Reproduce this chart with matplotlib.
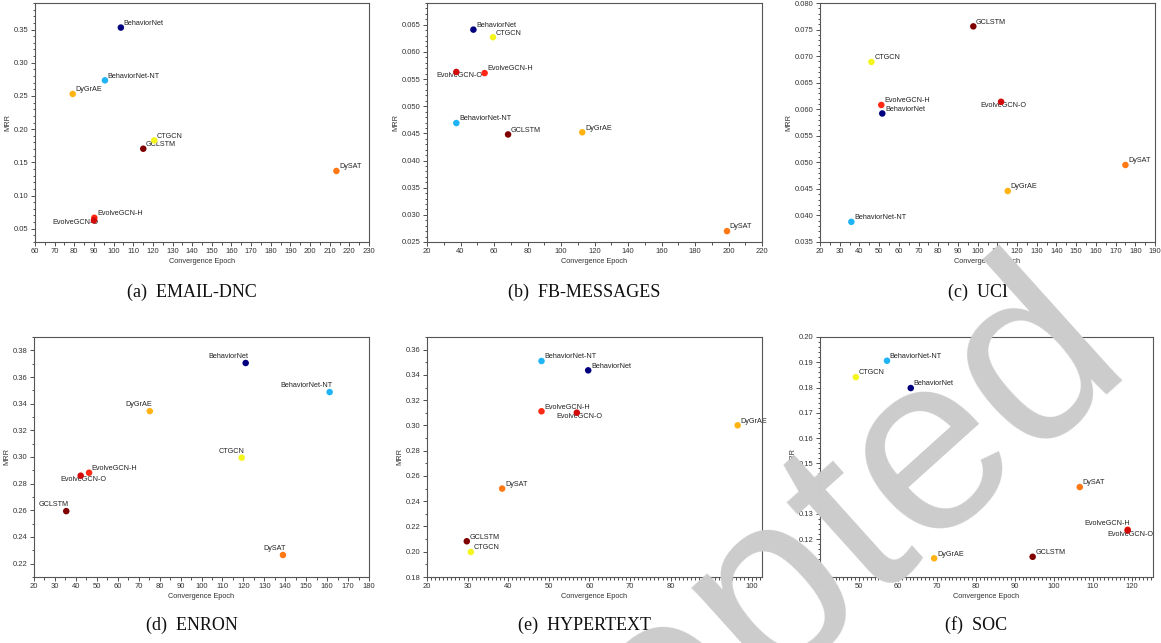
import matplotlib
matplotlib.use("Agg")
import matplotlib.pyplot as plt
from matplotlib.ticker import MultipleLocator, FormatStrFormatter

# methods in the order used by every dataset list below
methods = ["BehaviorNet", "BehaviorNet-NT", "CTGCN", "DyGrAE", "DySAT",
           "EvolveGCN-H", "EvolveGCN-O", "GCLSTM"]

email_epoch = [103.7, 95.6, 120.7, 79.2, 213.4, 90.2, 90.0, 115.1]
email_mrr = [0.353, 0.2735, 0.183, 0.253, 0.137, 0.0665, 0.0625, 0.1705]

fb_epoch = [47.7, 37.5, 59.4, 112.7, 199.1, 54.4, 37.5, 68.4]
fb_mrr = [0.0641, 0.0469, 0.0627, 0.0452, 0.0270, 0.0561, 0.0563, 0.0448]

uci_epoch = [51.6, 35.9, 46.1, 115.3, 175.0, 51.1, 111.9, 97.8]
uci_mrr = [0.0592, 0.0388, 0.0689, 0.0446, 0.0495, 0.0608, 0.0614, 0.0756]

enron_epoch = [121.1, 161.2, 119.2, 75.3, 138.9, 46.3, 42.3, 35.4]
enron_mrr = [0.3705, 0.3487, 0.2995, 0.3344, 0.2265, 0.2882, 0.2860, 0.2594]

hyper_epoch = [59.7, 48.2, 30.8, 96.5, 38.5, 48.2, 56.9, 29.8]
hyper_mrr = [0.3436, 0.3510, 0.1998, 0.3001, 0.2500, 0.3112, 0.3101, 0.2083]

soc_epoch = [63.3, 57.2, 49.2, 69.3, 106.7, 119.0, 119.0, 94.6]
soc_mrr = [0.1798, 0.1906, 0.1841, 0.1124, 0.1406, 0.1237, 0.1234, 0.1130]

colors = {
    "BehaviorNet": "#00007f",
    "BehaviorNet-NT": "#1eb4f5",
    "CTGCN": "#f5f51e",
    "DyGrAE": "#ffb414",
    "DySAT": "#ff7814",
    "EvolveGCN-H": "#ff2814",
    "EvolveGCN-O": "#d20a0a",
    "GCLSTM": "#800000",
}

W, H = 1161, 643

# label placements: (ha, va, dx, dy) in points; default is upper right
UR = ("left", "bottom", 2, 0.5)
UL = ("right", "bottom", 2, 2)
BELOW = ("center", "top", 2, 0)
BELOW_R = ("right", "top", 3, 1)

panels = [
    dict(title="(a)  EMAIL-DNC", x=email_epoch, y=email_mrr, box=(35, 3, 369, 242),
         xlim=(60, 230), ylim=(0.03, 0.39), xmaj=10, xmin=5, ymaj=0.05, ymin=0.01,
         fmt="%.2f", place={"EvolveGCN-O": BELOW_R}),
    dict(title="(b)  FB-MESSAGES", x=fb_epoch, y=fb_mrr, box=(427, 3, 762, 242),
         xlim=(20, 220), ylim=(0.025, 0.069), xmaj=20, xmin=10, ymaj=0.005, ymin=0.001,
         fmt="%.3f", place={"EvolveGCN-O": BELOW}),
    dict(title="(c)  UCI", x=uci_epoch, y=uci_mrr, box=(820, 3, 1155, 242),
         xlim=(20, 190), ylim=(0.035, 0.080), xmaj=10, xmin=5, ymaj=0.005, ymin=0.001,
         fmt="%.3f", place={"EvolveGCN-O": BELOW}),
    dict(title="(d)  ENRON", x=enron_epoch, y=enron_mrr, box=(34, 337, 369, 577),
         xlim=(20, 180), ylim=(0.21, 0.39), xmaj=10, xmin=5, ymaj=0.02, ymin=0.01,
         fmt="%.2f", default=UL,
         place={"EvolveGCN-H": UR, "EvolveGCN-O": BELOW}),
    dict(title="(e)  HYPERTEXT", x=hyper_epoch, y=hyper_mrr, box=(427, 337, 762, 577),
         xlim=(20, 102.5), ylim=(0.18, 0.37), xmaj=10, xmin=1, ymaj=0.02, ymin=0.01,
         fmt="%.2f", place={"EvolveGCN-O": BELOW}),
    dict(title="(f)  SOC", x=soc_epoch, y=soc_mrr, box=(820, 337, 1153, 577),
         xlim=(40, 125.5), ylim=(0.105, 0.20), xmaj=10, xmin=1, ymaj=0.01, ymin=0.002,
         fmt="%.2f", place={"EvolveGCN-H": UL, "EvolveGCN-O": BELOW}),
]

plt.rcParams["font.family"] = ["Liberation Sans", "DejaVu Sans"]

fig = plt.figure(figsize=(W / 100, H / 100), dpi=100)

for p in panels:
    l, t, r, b = p["box"]
    ax = fig.add_axes([l / W, 1 - b / H, (r - l) / W, (b - t) / H])

    for name, xv, yv in zip(methods, p["x"], p["y"]):
        ax.scatter(xv, yv, s=22, color=colors[name], edgecolors="none", zorder=3)
        ha, va, dx, dy = p["place"].get(name, p.get("default", UR))
        ax.annotate(name, (xv, yv), xytext=(dx, dy), textcoords="offset points",
                    ha=ha, va=va, fontsize=5.2, color="#222222", zorder=2,
                    annotation_clip=False)

    ax.set_xlim(*p["xlim"])
    ax.set_ylim(*p["ylim"])
    ax.xaxis.set_major_locator(MultipleLocator(p["xmaj"]))
    ax.xaxis.set_minor_locator(MultipleLocator(p["xmin"]))
    ax.yaxis.set_major_locator(MultipleLocator(p["ymaj"]))
    ax.yaxis.set_minor_locator(MultipleLocator(p["ymin"]))
    ax.yaxis.set_major_formatter(FormatStrFormatter(p["fmt"]))
    ax.tick_params(which="both", direction="out", labelsize=5.5, width=0.6,
                   color="#333333", labelcolor="#333333", pad=1.5)
    ax.tick_params(which="major", length=3)
    ax.tick_params(which="minor", length=1.8)
    for sp in ax.spines.values():
        sp.set_linewidth(0.8)
        sp.set_color("#555555")

    ax.set_xlabel("Convergence Epoch", fontsize=5.3, color="#333333", labelpad=2)
    ax.set_ylabel("MRR", fontsize=5.3, color="#333333", labelpad=2)

    cx = (l + r) / 2 - 10
    cy = 292 if t < 100 else 625
    fig.text(cx / W, 1 - cy / H, p["title"], ha="center", va="center",
             fontsize=13, family="Liberation Serif", color="#111111")

# light grey stamp across the lower right
fig.text(700 / W, 1 - 672 / H, "Accepted", fontsize=182, color="#cccccc",
         rotation=42, ha="center", va="center", rotation_mode="anchor", zorder=10)

fig.savefig("out.png", dpi=100)
